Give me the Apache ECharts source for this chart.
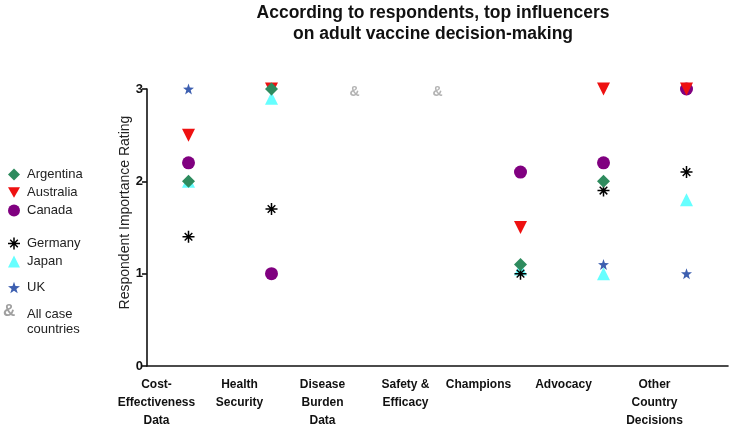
<!DOCTYPE html>
<html>
<head>
<meta charset="utf-8">
<script src="https://cdn.jsdelivr.net/npm/echarts@6/dist/echarts.min.js"></script>
<style>
html,body{margin:0;padding:0;background:#fff;}
#c{width:731px;height:434px;}
</style>
</head>
<body>
<div id="c"></div>
<script>
var categories = ['Cost-\nEffectiveness\nData', 'Health\nSecurity', 'Disease\nBurden\nData', 'Safety &\nEfficacy', 'Champions', 'Advocacy', 'Other\nCountry\nDecisions'];
var yTicks = [0, 1, 2, 3];
var argentina = [2.0, 3.0, null, null, 1.1, 2.0, null];
var australia = [2.5, 3.0, null, null, 1.5, 3.0, 3.0];
var canada    = [2.2, 1.0, null, null, 2.1, 2.2, 3.0];
var germany   = [1.4, 1.7, null, null, 1.0, 1.9, 2.1];
var japan     = [2.0, 2.9, null, null, 1.05, 1.0, 1.8];
var uk        = [3.0, null, null, null, null, 1.1, 1.0];
var allCase   = [null, null, 2.97, 2.97, null, null, null];

// horizontal shift (px, to the left) of each category label, as in the reference
var labelShift = [32, 32, 32, 32, 42, 40, 32];

var ASTERISK = 'path://M0 8.75L20 8.75L20 11.25L0 11.25Z M8.75 0L11.25 0L11.25 20L8.75 20Z M2.8 4.5L4.5 2.8L17.2 15.5L15.5 17.2Z M15.5 2.8L17.2 4.5L4.5 17.2L2.8 15.5Z';
var STAR = 'path://M10 0.5L12.35 7.26L19.51 7.41L13.8 11.74L15.88 18.59L10 14.5L4.12 18.59L6.2 11.74L0.49 7.41L7.65 7.26Z';
var DOWN_TRI = 'path://M0 0L20 0L10 17.3Z';
var FONT = 'Liberation Sans, Arial, sans-serif';

function sc(name, data, symbol, color, size, z) {
  return {
    name: name, type: 'scatter', data: data, symbol: symbol, symbolSize: size, z: z,
    itemStyle: { color: color, opacity: 1 },
    emphasis: { disabled: true }
  };
}

var xData = categories.map(function (c, i) {
  return { value: c, textStyle: { padding: [0, labelShift[i] * 2, 0, 0] } };
});

var chart = echarts.init(document.getElementById('c'), null, { renderer: 'canvas' });
var legendText = { fontFamily: FONT, fontSize: 13, color: '#222', padding: [0, 0, 0, 2] };
var option = {
  animation: false,
  backgroundColor: '#fff',
  title: {
    text: 'According to respondents, top influencers\non adult vaccine decision-making',
    left: 433, top: 3, padding: 0, textAlign: 'center',
    textStyle: { fontFamily: FONT, fontSize: 17.5, fontWeight: 'bold', color: '#111', lineHeight: 21 }
  },
  legend: [
    { orient: 'vertical', left: 3, top: 163, itemWidth: 12, itemHeight: 12, itemGap: 5,
      data: ['Argentina', 'Australia', 'Canada'], textStyle: legendText, selectedMode: false },
    { orient: 'vertical', left: 3, top: 232, itemWidth: 12, itemHeight: 12, itemGap: 5,
      data: ['Germany', 'Japan'], textStyle: legendText, selectedMode: false },
    { orient: 'vertical', left: 3, top: 276, itemWidth: 12, itemHeight: 12, itemGap: 5,
      data: ['UK'], textStyle: legendText, selectedMode: false },
    { orient: 'vertical', left: 3, top: 302, itemWidth: 12, itemHeight: 12, itemGap: 5,
      data: [{ name: 'All case countries', itemStyle: { opacity: 0 } }],
      formatter: function () { return 'All case\ncountries'; },
      textStyle: { fontFamily: FONT, fontSize: 13, color: '#222', padding: [0, 0, 0, 2], lineHeight: 15 },
      selectedMode: false }
  ],
  graphic: [
    { type: 'text', left: 3, top: 303, silent: true,
      style: { text: '&', fontFamily: FONT, fontSize: 17, fontWeight: 'bold', fill: '#a0a0a0' } }
  ],
  grid: { left: 147, right: 3, top: 89, bottom: 68, containLabel: false, outerBoundsMode: 'none' },
  xAxis: {
    type: 'category', data: xData, boundaryGap: true,
    axisLine: { lineStyle: { color: '#111', width: 1.6 } },
    axisTick: { alignWithLabel: true, length: 5, lineStyle: { color: '#111', width: 1.6 } },
    axisLabel: { interval: 0, margin: 10, color: '#111', fontFamily: FONT, fontSize: 12, fontWeight: 'bold', lineHeight: 18, hideOverlap: false },
    splitLine: { show: false }
  },
  yAxis: {
    type: 'value', min: 0, max: 3, interval: 1,
    name: 'Respondent Importance Rating', nameLocation: 'middle', nameGap: 15, nameMoveOverlap: false,
    nameTextStyle: { fontFamily: FONT, fontSize: 14, color: '#222', padding: [0, 0, 0, 30] },
    axisLine: { show: true, lineStyle: { color: '#111', width: 1.6 } },
    axisTick: { show: true, length: 5, lineStyle: { color: '#111', width: 1.6 } },
    axisLabel: { margin: 4, color: '#111', fontFamily: FONT, fontSize: 13, fontWeight: 'bold',
      formatter: function (v) { return yTicks.indexOf(v) >= 0 ? String(v) : ''; } },
    splitLine: { show: false }
  },
  series: [
    sc('Argentina', argentina, 'diamond', '#2e8b5e', 13, 10),
    sc('Australia', australia, DOWN_TRI, '#ee1111', 13, 9),
    sc('Canada', canada, 'circle', '#800080', 13, 8),
    sc('Germany', germany, ASTERISK, '#000000', 12, 7),
    sc('Japan', japan, 'triangle', '#66ffff', 13, 6),
    sc('UK', uk, STAR, '#3d5fb0', 11, 5),
    {
      name: 'All case countries', type: 'scatter', data: allCase, symbol: 'circle', symbolSize: 10, z: 4,
      itemStyle: { color: 'rgba(0,0,0,0)' },
      label: { show: true, position: 'inside', formatter: '&', color: '#a0a0a0', fontFamily: FONT, fontSize: 14, fontWeight: 'bold' },
      emphasis: { disabled: true }
    }
  ]
};
chart.setOption(option);
</script>
</body>
</html>
